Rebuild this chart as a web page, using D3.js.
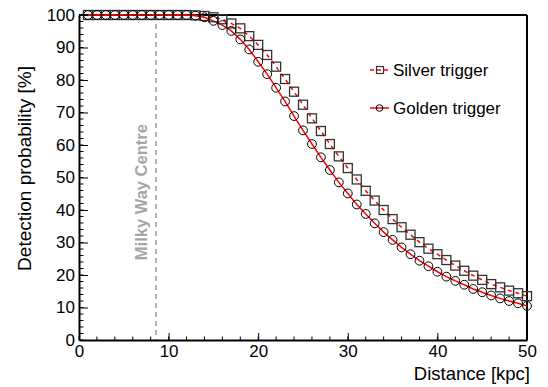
<!DOCTYPE html>
<html>
<head>
<meta charset="utf-8">
<script src="https://cdn.jsdelivr.net/npm/d3@7"></script>
<style>
  body { margin: 0; background: #fff; }
  svg { font-family: "Liberation Sans", Arial, Helvetica, sans-serif; }
</style>
</head>
<body>
<div id="wrapper"></div>
<script>
// distance in kpc, probabilities in %
const distances = d3.range(1, 51)
const goldenValues = [100, 100, 100, 100, 100, 100, 100, 100, 100, 100,
    100, 100, 99.8, 99.3, 98.2, 96.9, 95.1, 92.5, 89.4, 85.6,
    81.8, 77.6, 73.4, 68.9, 64.5, 60.3, 56.2, 52.3, 48.5, 45.1,
    41.7, 38.8, 35.9, 33.2, 30.8, 28.5, 26.4, 24.4, 22.7, 21.0,
    19.5, 18.2, 17.0, 15.7, 14.7, 13.7, 12.8, 12.0, 11.3, 10.5]
const silverValues = [100, 100, 100, 100, 100, 100, 100, 100, 100, 100,
    100, 100, 99.9, 99.7, 99.3, 98.7, 97.4, 95.9, 93.5, 90.8,
    87.7, 84.1, 80.3, 76.4, 72.4, 68.2, 64.3, 60.3, 56.5, 52.9,
    49.4, 45.9, 42.9, 40.0, 37.2, 34.7, 32.4, 30.1, 28.1, 26.4,
    24.6, 22.9, 21.3, 19.8, 18.5, 17.2, 16.2, 15.2, 14.4, 13.5]
const milkyWayCentre = 8.6
const xTicks = [0, 10, 20, 30, 40, 50]
const yTicks = [0, 10, 20, 30, 40, 50, 60, 70, 80, 90, 100]

const goldenData = distances.map((d, i) => ({x: d, y: goldenValues[i]}))
const silverData = distances.map((d, i) => ({x: d, y: silverValues[i]}))

let dimensions = {
    width: 548,
    height: 387,
    margin: {top: 15, right: 21, bottom: 47, left: 79},
}
dimensions.boundedWidth = dimensions.width - dimensions.margin.left - dimensions.margin.right
dimensions.boundedHeight = dimensions.height - dimensions.margin.top - dimensions.margin.bottom

const svg = d3.select("#wrapper")
    .append("svg")
        .attr("width", dimensions.width)
        .attr("height", dimensions.height)

const bounds = svg.append("g")
    .attr("transform", `translate(${dimensions.margin.left},${dimensions.margin.top})`)

const xScale = d3.scaleLinear()
    .domain([0, 50])
    .range([0, dimensions.boundedWidth])
const yScale = d3.scaleLinear()
    .domain([0, 100])
    .range([dimensions.boundedHeight, 0])

// milky way centre marker
bounds.append("line")
    .attr("x1", xScale(milkyWayCentre)).attr("x2", xScale(milkyWayCentre))
    .attr("y1", 0).attr("y2", dimensions.boundedHeight)
    .attr("stroke", "#9a9a9a")
    .attr("stroke-width", 1.5)
    .attr("stroke-dasharray", "5,4")

bounds.append("text")
    .attr("transform", `translate(${xScale(milkyWayCentre) - 9},${yScale(45.5)}) rotate(-90)`)
    .attr("text-anchor", "middle")
    .attr("font-size", 16.5)
    .attr("font-weight", "bold")
    .attr("fill", "#a6a6a6")
    .text("Milky Way Centre")

// axes (ROOT style, ticks inside)
const xAxis = bounds.append("g")
    .attr("transform", `translate(0,${dimensions.boundedHeight})`)
xAxis.selectAll(".minor")
    .data(d3.range(0, 51, 2))
    .join("line")
        .attr("x1", d => xScale(d)).attr("x2", d => xScale(d))
        .attr("y1", 0).attr("y2", -3.5)
        .attr("stroke", "#000")
xAxis.call(d3.axisBottom(xScale).tickValues(xTicks).tickSizeInner(-7).tickSizeOuter(0).tickPadding(5))
xAxis.select(".domain").attr("stroke-width", 2)
xAxis.selectAll(".tick line").attr("stroke-width", 1)
xAxis.selectAll(".tick text")
    .attr("font-size", 17)
    .attr("font-family", "Liberation Sans, Arial, sans-serif")
    .attr("fill", "#000")

const yAxis = bounds.append("g")
yAxis.selectAll(".minor")
    .data(d3.range(0, 101, 2))
    .join("line")
        .attr("x1", 0).attr("x2", 4.5)
        .attr("y1", d => yScale(d)).attr("y2", d => yScale(d))
        .attr("stroke", "#000")
yAxis.call(d3.axisLeft(yScale).tickValues(yTicks).tickSizeInner(-9).tickSizeOuter(0).tickPadding(4))
yAxis.select(".domain").attr("stroke-width", 2)
yAxis.selectAll(".tick text")
    .attr("font-size", 17)
    .attr("font-family", "Liberation Sans, Arial, sans-serif")
    .attr("fill", "#000")

// frame top and right
bounds.append("line")
    .attr("x1", 0).attr("x2", dimensions.boundedWidth)
    .attr("y1", 0).attr("y2", 0)
    .attr("stroke", "#000").attr("stroke-width", 2)
bounds.append("line")
    .attr("x1", dimensions.boundedWidth).attr("x2", dimensions.boundedWidth)
    .attr("y1", 0).attr("y2", dimensions.boundedHeight)
    .attr("stroke", "#000").attr("stroke-width", 2)

// axis titles
svg.append("text")
    .attr("x", 530)
    .attr("y", 380)
    .attr("text-anchor", "end")
    .attr("font-size", 18.5)
    .text("Distance [kpc]")

svg.append("text")
    .attr("transform", "translate(31,66) rotate(-90)")
    .attr("text-anchor", "end")
    .attr("font-size", 19)
    .text("Detection probability [%]")

// curves
const lineGenerator = d3.line()
    .x(d => xScale(d.x))
    .y(d => yScale(d.y))

bounds.append("path")
    .attr("d", lineGenerator(silverData))
    .attr("fill", "none")
    .attr("stroke", "#ff0000")
    .attr("stroke-width", 1.5)
    .attr("stroke-dasharray", "4,4")

bounds.append("path")
    .attr("d", lineGenerator(goldenData))
    .attr("fill", "none")
    .attr("stroke", "#ff0000")
    .attr("stroke-width", 1.5)

bounds.selectAll(".silver")
    .data(silverData)
    .join("rect")
        .attr("class", "silver")
        .attr("x", d => xScale(d.x) - 4.5)
        .attr("y", d => yScale(d.y) - 4.5)
        .attr("width", 9)
        .attr("height", 9)
        .attr("fill", "none")
        .attr("stroke", "#333")
        .attr("stroke-width", 1.3)

bounds.selectAll(".golden")
    .data(goldenData)
    .join("circle")
        .attr("class", "golden")
        .attr("cx", d => xScale(d.x))
        .attr("cy", d => yScale(d.y))
        .attr("r", 4.4)
        .attr("fill", "none")
        .attr("stroke", "#000")
        .attr("stroke-width", 1)

// legend
const legend = svg.append("g")
const legendItems = [
    {label: "Silver trigger", y: 70, dash: "4,3", marker: "square"},
    {label: "Golden trigger", y: 108, dash: null, marker: "circle"},
]
legendItems.forEach(item => {
    legend.append("line")
        .attr("x1", 370).attr("x2", 389)
        .attr("y1", item.y).attr("y2", item.y)
        .attr("stroke", "#ff0000")
        .attr("stroke-width", 1.5)
        .attr("stroke-dasharray", item.dash)
    if (item.marker === "square") {
        legend.append("rect")
            .attr("x", 376.5).attr("y", item.y - 3.5)
            .attr("width", 7).attr("height", 7)
            .attr("fill", "none").attr("stroke", "#333").attr("stroke-width", 1.2)
    } else {
        legend.append("circle")
            .attr("cx", 379.5).attr("cy", item.y).attr("r", 3.3)
            .attr("fill", "none").attr("stroke", "#000")
    }
    legend.append("text")
        .attr("x", 393)
        .attr("y", item.y + 6)
        .attr("font-size", 17)
        .text(item.label)
})
</script>
</body>
</html>
